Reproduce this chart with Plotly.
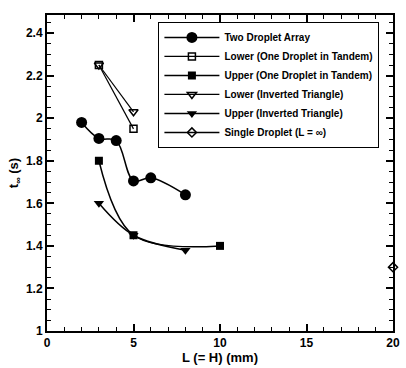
import plotly.graph_objects as go

two_x = [2, 3, 4, 5, 6, 8]
two_y = [1.98, 1.905, 1.895, 1.705, 1.72, 1.64]
lt_x = [3, 5]
lt_y = [2.25, 1.95]
ut_x = [3, 5, 10]
ut_y = [1.80, 1.45, 1.40]
li_x = [3, 5]
li_y = [2.25, 2.03]
ui_x = [3, 5, 8]
ui_y = [1.60, 1.45, 1.38]
sd_x = [20]
sd_y = [1.30]

fig = go.Figure()
fig.add_trace(go.Scatter(x=two_x, y=two_y, name="Two Droplet Array", mode="lines+markers",
                         line=dict(color="black", width=1.5, shape="spline", smoothing=1.0),
                         marker=dict(symbol="circle", size=11, color="black")))
fig.add_trace(go.Scatter(x=lt_x, y=lt_y, name="Lower (One Droplet in Tandem)", mode="lines+markers",
                         line=dict(color="black", width=1.2),
                         marker=dict(symbol="square-open", size=7, color="black", line=dict(width=1.5))))
fig.add_trace(go.Scatter(x=ut_x, y=ut_y, name="Upper (One Droplet in Tandem)", mode="lines+markers",
                         line=dict(color="black", width=1.5, shape="spline", smoothing=1.0),
                         marker=dict(symbol="square", size=8, color="black")))
fig.add_trace(go.Scatter(x=li_x, y=li_y, name="Lower (Inverted Triangle)", mode="lines+markers",
                         line=dict(color="black", width=1.2),
                         marker=dict(symbol="triangle-down-open", size=8, color="black", line=dict(width=1.5))))
fig.add_trace(go.Scatter(x=ui_x, y=ui_y, name="Upper (Inverted Triangle)", mode="lines+markers",
                         line=dict(color="black", width=1.5, shape="spline", smoothing=1.0),
                         marker=dict(symbol="triangle-down", size=9, color="black")))
fig.add_trace(go.Scatter(x=sd_x, y=sd_y, name="Single Droplet (L = \u221e)", mode="lines+markers",
                         line=dict(color="black", width=1.5),
                         marker=dict(symbol="diamond-open", size=7, color="black", line=dict(width=1.5)),
                         cliponaxis=False))

axis_common = dict(showline=True, linecolor="black", linewidth=2, mirror="ticks",
                   ticks="inside", tickcolor="black", tickwidth=2, ticklen=7,
                   showgrid=False, zeroline=False,
                   tickfont=dict(family="Liberation Sans", size=12, color="black", weight="bold"))

fig.update_xaxes(range=[0, 20], tickvals=[0, 5, 10, 15, 20], ticktext=["0", "5", "10", "15", "20"],
                 minor=dict(dtick=1, ticks="inside", ticklen=4, tickcolor="black", tickwidth=1),
                 title=dict(text="<b>L (= H) (mm)</b>", font=dict(family="Liberation Sans", size=13, color="black"), standoff=2),
                 **axis_common)
fig.update_yaxes(range=[1, 2.485], tickvals=[1, 1.2, 1.4, 1.6, 1.8, 2, 2.2, 2.4],
                 ticktext=["1", "1.2", "1.4", "1.6", "1.8", "2", "2.2", "2.4"],
                 minor=dict(dtick=0.05, ticks="inside", ticklen=4, tickcolor="black", tickwidth=1),
                 title=dict(text="<b>t<sub>\u221e</sub> (s)</b>", font=dict(family="Liberation Sans", size=13, color="black"), standoff=4),
                 **axis_common)

fig.update_layout(
    width=406, height=368,
    margin=dict(l=47, r=6, t=15, b=31),
    paper_bgcolor="white", plot_bgcolor="white",
    showlegend=True,
    legend=dict(x=0.322, y=0.978, xanchor="left", yanchor="top",
                bordercolor="black", borderwidth=1, bgcolor="white",
                font=dict(family="Liberation Sans", size=10, color="black", weight="bold"),
                itemwidth=55, tracegroupgap=0),
)

fig.write_html("out.html")
